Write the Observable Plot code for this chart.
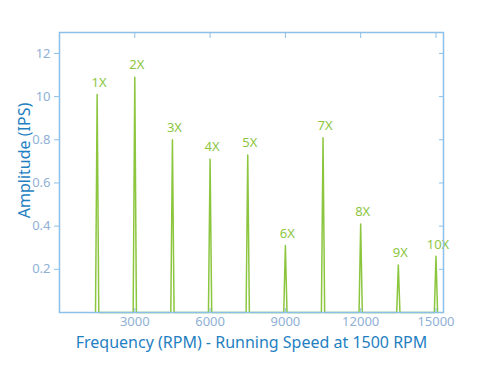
<!DOCTYPE html>
<html>
<head>
<meta charset="utf-8">
<script src="https://cdn.jsdelivr.net/npm/d3@7"></script>
<script src="https://cdn.jsdelivr.net/npm/@observablehq/plot@0.6"></script>
<style>
  html, body { margin: 0; padding: 0; background: #fff; }
  #chart svg { display: block; }
</style>
</head>
<body>
<div id="chart"></div>
<script>
const orderLabels = ["1X","2X","3X","4X","5X","6X","7X","8X","9X","10X"];
const frequencies = [1500, 3000, 4500, 6000, 7500, 9000, 10500, 12000, 13500, 15000];
const amplitudes = [1.01, 1.09, 0.80, 0.71, 0.73, 0.31, 0.81, 0.41, 0.22, 0.26];
const xTicks = [3000, 6000, 9000, 12000, 15000];
const yTicks = [0.2, 0.4, 0.6, 0.8, 1.0, 1.2];
const yTickLabels = ["0.2", "0.4", "0.6", "0.8", "10", "12"];
const spikeHalfWidth = 65;

const peaks = orderLabels.map((label, i) => ({label, f: frequencies[i], a: amplitudes[i]}));
const spectrum = [];
peaks.forEach(p => {
  spectrum.push({f: p.f - spikeHalfWidth, a: 0});
  spectrum.push({f: p.f, a: p.a});
  spectrum.push({f: p.f + spikeHalfWidth, a: 0});
});

const axisColor = "#8cc0e8";
const tickTextColor = "#8fb0d6";
const titleColor = "#1f7fc2";
const green = "#8cc63f";

const plot = Plot.plot({
  width: 480,
  height: 365,
  marginLeft: 59,
  marginRight: 37,
  marginTop: 32,
  marginBottom: 53,
  style: {fontFamily: "Noto Sans", background: "#fff"},
  x: {domain: [0, 15300]},
  y: {domain: [0, 1.297]},
  marks: [
    Plot.line(spectrum, {x: "f", y: "a", stroke: green, strokeWidth: 1.5}),
    Plot.text(peaks, {x: "f", y: "a", text: "label", dy: -12, dx: 2, fill: green, fontSize: 13}),
    Plot.axisY(yTicks, {anchor: "left", tickSize: 5, stroke: axisColor, tickPadding: 4,
      tickFormat: (d, i) => yTickLabels[i], fill: tickTextColor, fontSize: 13, label: null}),
    Plot.axisY(yTicks, {anchor: "right", tickSize: -5, stroke: axisColor,
      tickFormat: () => "", label: null}),
    Plot.axisX(xTicks, {anchor: "bottom", tickSize: -4, stroke: axisColor, tickPadding: 8,
      tickFormat: d => String(d), fill: tickTextColor, fontSize: 13, label: null}),
    Plot.axisX(xTicks, {anchor: "top", tickSize: -5, stroke: axisColor,
      tickFormat: () => "", label: null}),
    Plot.frame({stroke: axisColor, strokeWidth: 1.5}),
    Plot.text(["Frequency (RPM) - Running Speed at 1500 RPM"], {
      frameAnchor: "bottom", dy: 30, lineAnchor: "middle", fill: titleColor, fontSize: 16, text: d => d}),
    Plot.text(["Amplitude (IPS)"], {
      frameAnchor: "left", dx: -35, dy: -12, rotate: -90, textAnchor: "middle", lineAnchor: "middle",
      fill: titleColor, fontSize: 16, text: d => d})
  ]
});
document.getElementById("chart").appendChild(plot);
</script>
</body>
</html>
